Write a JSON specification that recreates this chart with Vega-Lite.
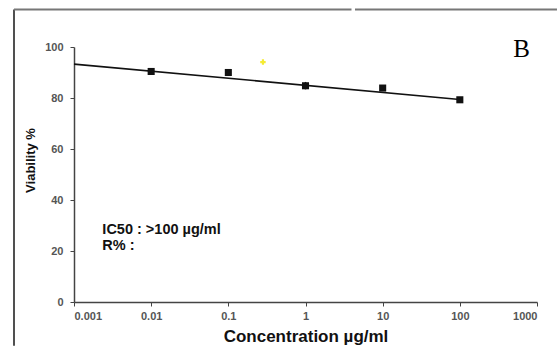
{
  "$schema": "https://vega.github.io/schema/vega-lite/v6.json",
  "usermeta": {"embedOptions": {"actions": false}},
  "width": 463,
  "height": 255,
  "autosize": "none",
  "padding": {"left": 74, "top": 47, "right": 21, "bottom": 45},
  "background": "white",
  "config": {"view": {"stroke": null}, "font": "Liberation Sans"},
  "datasets": {
    "points": [
      {"conc": 0.01, "viability": 90.4, "lo": 89.7, "hi": 91.1},
      {"conc": 0.1, "viability": 90.0, "lo": 89.4, "hi": 90.6},
      {"conc": 1, "viability": 84.8, "lo": 83.4, "hi": 86.3},
      {"conc": 10, "viability": 83.9, "lo": 83.2, "hi": 84.6},
      {"conc": 100, "viability": 79.3, "lo": 78.8, "hi": 79.8}
    ],
    "fit": [
      {"conc": 0.001, "viability": 93.3},
      {"conc": 100, "viability": 79.4}
    ],
    "notes": [
      {"conc": 0.281, "viability": 94.1}
    ],
    "one": [{}]
  },
  "layer": [
    {
      "data": {"name": "one"},
      "mark": {"type": "rule", "color": "#505050", "strokeWidth": 2},
      "encoding": {
        "x": {"datum": 0.0001669, "type": "quantitative", "scale": {"type": "log", "domain": [0.001, 1000], "nice": false}},
        "y": {"datum": -17.2, "type": "quantitative", "scale": {"domain": [0, 100], "nice": false}},
        "y2": {"datum": 114.7}
      }
    },
    {
      "data": {"name": "one"},
      "mark": {"type": "rule", "color": "#777777", "strokeWidth": 2},
      "encoding": {
        "x": {"datum": 0.0001669, "type": "quantitative", "scale": {"type": "log", "domain": [0.001, 1000], "nice": false}},
        "x2": {"datum": 3.945},
        "y": {"datum": 114.7, "type": "quantitative", "scale": {"domain": [0, 100], "nice": false}}
      }
    },
    {
      "data": {"name": "one"},
      "mark": {"type": "rule", "color": "#777777", "strokeWidth": 2},
      "encoding": {
        "x": {"datum": 4.378, "type": "quantitative", "scale": {"type": "log", "domain": [0.001, 1000], "nice": false}},
        "x2": {"datum": 1815},
        "y": {"datum": 114.7, "type": "quantitative", "scale": {"domain": [0, 100], "nice": false}}
      }
    },
    {
      "data": {"name": "fit"},
      "mark": {"type": "line", "color": "#111111", "strokeWidth": 1.6},
      "encoding": {
        "x": {"field": "conc", "type": "quantitative", "scale": {"type": "log", "domain": [0.001, 1000], "nice": false},
          "axis": {
            "values": [0.001, 0.01, 0.1, 1, 10, 100, 1000],
            "format": "~g",
            "grid": false,
            "tickSize": 4,
            "tickColor": "#444444",
            "domainColor": "#444444",
            "domainWidth": 1.5,
            "labelFontSize": 11,
            "labelFontWeight": "bold",
            "labelColor": "#555555",
            "labelPadding": 4,
            "title": "Concentration µg/ml",
            "titleFontSize": 17,
            "titleFontWeight": "bold",
            "titleColor": "#111111",
            "titleBaseline": "alphabetic",
            "titleY": 39
          }
        },
        "y": {"field": "viability", "type": "quantitative", "scale": {"domain": [0, 100], "nice": false},
          "axis": {
            "values": [0, 20, 40, 60, 80, 100],
            "grid": false,
            "tickSize": 4,
            "tickColor": "#444444",
            "domainColor": "#444444",
            "domainWidth": 1.5,
            "labelFontSize": 11,
            "labelFontWeight": "bold",
            "labelColor": "#555555",
            "labelPadding": 7,
            "title": "Viability %",
            "titleFontSize": 13,
            "titleFontWeight": "bold",
            "titleColor": "#111111",
            "titleBaseline": "alphabetic",
            "titleX": -40,
            "titleY": 113
          }
        }
      }
    },
    {
      "data": {"name": "points"},
      "mark": {"type": "rule", "color": "#111111", "strokeWidth": 1.5},
      "encoding": {
        "x": {"field": "conc", "type": "quantitative", "scale": {"type": "log", "domain": [0.001, 1000], "nice": false}},
        "y": {"field": "lo", "type": "quantitative", "scale": {"domain": [0, 100], "nice": false}},
        "y2": {"field": "hi"}
      }
    },
    {
      "data": {"name": "points"},
      "mark": {"type": "point", "shape": "square", "filled": true, "color": "#111111", "size": 50, "opacity": 1},
      "encoding": {
        "x": {"field": "conc", "type": "quantitative", "scale": {"type": "log", "domain": [0.001, 1000], "nice": false}},
        "y": {"field": "viability", "type": "quantitative", "scale": {"domain": [0, 100], "nice": false}}
      }
    },
    {
      "data": {"name": "notes"},
      "mark": {"type": "point", "shape": "cross", "filled": true, "color": "#f2e600", "size": 30, "opacity": 0.8},
      "encoding": {
        "x": {"field": "conc", "type": "quantitative", "scale": {"type": "log", "domain": [0.001, 1000], "nice": false}},
        "y": {"field": "viability", "type": "quantitative", "scale": {"domain": [0, 100], "nice": false}}
      }
    },
    {
      "data": {"name": "one"},
      "mark": {"type": "text", "text": "B", "font": "Liberation Serif", "fontSize": 25, "align": "center", "baseline": "alphabetic", "color": "#000000"},
      "encoding": {
        "x": {"datum": 632, "type": "quantitative", "scale": {"type": "log", "domain": [0.001, 1000], "nice": false}},
        "y": {"datum": 96.1, "type": "quantitative", "scale": {"domain": [0, 100], "nice": false}}
      }
    },
    {
      "data": {"name": "one"},
      "mark": {"type": "text", "text": "IC50 : >100 µg/ml", "fontSize": 14.5, "fontWeight": "bold", "align": "left", "baseline": "alphabetic", "color": "#111111"},
      "encoding": {
        "x": {"datum": 0.00233, "type": "quantitative", "scale": {"type": "log", "domain": [0.001, 1000], "nice": false}},
        "y": {"datum": 26.7, "type": "quantitative", "scale": {"domain": [0, 100], "nice": false}}
      }
    },
    {
      "data": {"name": "one"},
      "mark": {"type": "text", "text": "R% :", "fontSize": 14.5, "fontWeight": "bold", "align": "left", "baseline": "alphabetic", "color": "#111111"},
      "encoding": {
        "x": {"datum": 0.00233, "type": "quantitative", "scale": {"type": "log", "domain": [0.001, 1000], "nice": false}},
        "y": {"datum": 20.2, "type": "quantitative", "scale": {"domain": [0, 100], "nice": false}}
      }
    }
  ]
}
